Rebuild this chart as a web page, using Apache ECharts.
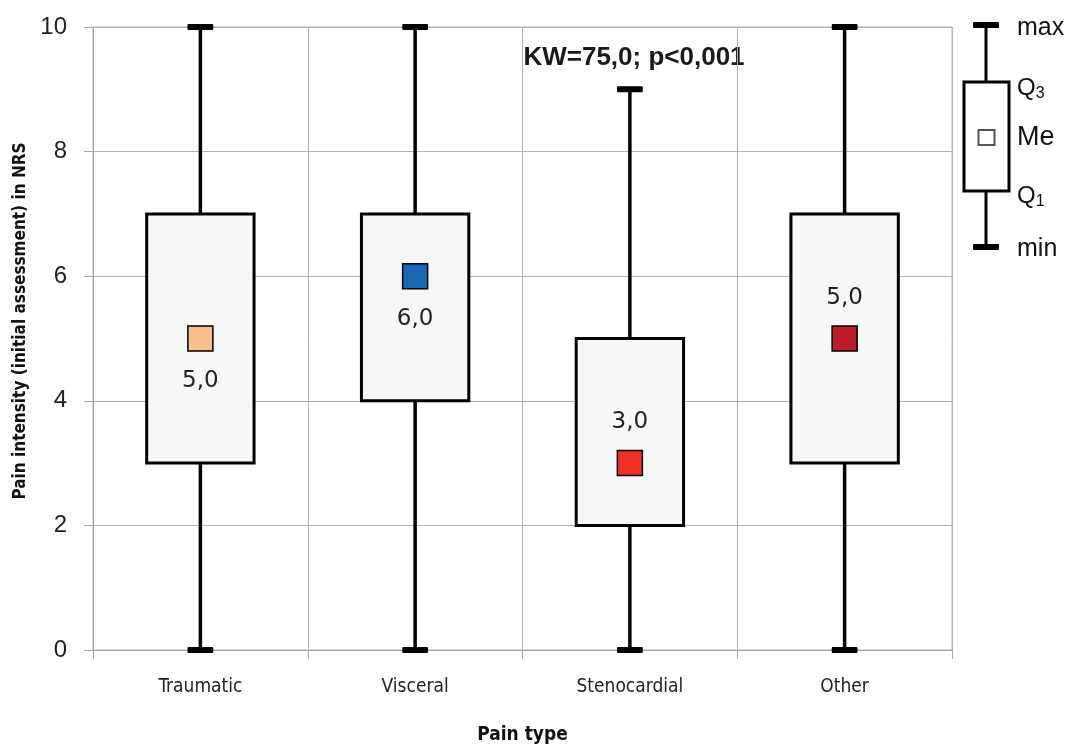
<!DOCTYPE html>
<html>
<head>
<meta charset="utf-8">
<script src="https://cdn.jsdelivr.net/npm/echarts@6/dist/echarts.min.js"></script>
<style>html,body{margin:0;padding:0;background:#fff}#c{width:1068px;height:750px}</style>
</head>
<body>
<div id="c"></div>
<script>
const categories = ['Traumatic', 'Visceral', 'Stenocardial', 'Other'];
const minValues = [0, 0, 0, 0];
const q1Values = [3, 4, 2, 3];
const medianValues = [5, 6, 3, 5];
const q3Values = [7, 7, 5, 7];
const maxValues = [10, 10, 9, 10];
const yTicks = [0, 2, 4, 6, 8, 10];
const medianColors = ['#f9bf8c', '#1769b5', '#ee3124', '#bb1e26'];
const labelPositions = ['bottom', 'bottom', 'top', 'top'];
const annotation = 'KW=75,0; p<0,001';

const narrow = "'Liberation Sans Narrow', 'DejaVu Sans Condensed', sans-serif";
const chart = echarts.init(document.getElementById('c'));

const boxData = categories.map((c, i) => [i, minValues[i], q1Values[i], medianValues[i], q3Values[i], maxValues[i]]);
const medData = categories.map((c, i) => ({
  value: [i, medianValues[i]],
  itemStyle: { color: medianColors[i] },
  label: { position: labelPositions[i], distance: labelPositions[i] === 'top' ? 16 : 18 }
}));

function renderBox(params, api) {
  const x = api.value(0);
  const pMin = api.coord([x, api.value(1)]);
  const pQ1 = api.coord([x, api.value(2)]);
  const pQ3 = api.coord([x, api.value(4)]);
  const pMax = api.coord([x, api.value(5)]);
  const band = api.size([1, 0])[0];
  const bw = band * 0.5;
  const cw = band * 0.12;
  const cx = pMin[0];
  return {
    type: 'group',
    children: [
      { type: 'line', shape: { x1: cx, y1: pMax[1], x2: cx, y2: pMin[1] }, style: { stroke: '#000', lineWidth: 3.5 } },
      { type: 'rect', shape: { x: cx - cw / 2, y: pMax[1] - 3, width: cw, height: 6, r: 1 }, style: { fill: '#000' } },
      { type: 'rect', shape: { x: cx - cw / 2, y: pMin[1] - 3, width: cw, height: 6, r: 1 }, style: { fill: '#000' } },
      { type: 'rect', shape: { x: cx - bw / 2, y: pQ3[1], width: bw, height: pQ1[1] - pQ3[1] }, style: { fill: '#f7f7f7', stroke: '#000', lineWidth: 3 } }
    ]
  };
}

const sans = '"Liberation Sans", Arial, sans-serif';
const qRich = {
  a: { fontSize: 24, fontFamily: 'Liberation Sans', fill: '#111' },
  b: { fontSize: 16, fontFamily: 'Liberation Sans', fill: '#111', verticalAlign: 'bottom', padding: [12, 0, 0, 0] }
};
// explanatory key (not data)
const lx = 986;
const graphics = [
  { type: 'line', shape: { x1: lx, y1: 25, x2: lx, y2: 247 }, style: { stroke: '#000', lineWidth: 3 } },
  { type: 'rect', shape: { x: lx - 13, y: 22, width: 26, height: 6, r: 1 }, style: { fill: '#000' } },
  { type: 'rect', shape: { x: lx - 13, y: 244, width: 26, height: 6, r: 1 }, style: { fill: '#000' } },
  { type: 'rect', shape: { x: lx - 22, y: 82, width: 45, height: 109 }, style: { fill: '#fff', stroke: '#000', lineWidth: 3 } },
  { type: 'rect', shape: { x: lx - 7.5, y: 130, width: 16, height: 15 }, style: { fill: '#fff', stroke: '#555', lineWidth: 2 } },
  { type: 'text', x: 1017, y: 28, style: { text: 'max', font: '25px ' + sans, fill: '#111', verticalAlign: 'middle' } },
  { type: 'text', x: 1017, y: 88, style: { text: '{a|Q}{b|3}', rich: qRich, verticalAlign: 'middle' } },
  { type: 'text', x: 1017, y: 138, style: { text: 'Me', font: '27px ' + sans, fill: '#111', verticalAlign: 'middle' } },
  { type: 'text', x: 1017, y: 196, style: { text: '{a|Q}{b|1}', rich: qRich, verticalAlign: 'middle' } },
  { type: 'text', x: 1017, y: 249, style: { text: 'min', font: '25px ' + sans, fill: '#111', verticalAlign: 'middle' } },
  { type: 'text', x: 634, y: 58, style: { text: annotation, font: 'bold 26px ' + sans, fill: '#1a1a1a', align: 'center', verticalAlign: 'middle' } }
];

chart.setOption({
  animation: false,
  backgroundColor: '#fff',
  grid: { left: 93, right: 116, top: 27, bottom: 100, show: true, borderColor: '#b3b3b3', borderWidth: 1 },
  xAxis: {
    type: 'category',
    data: categories,
    boundaryGap: true,
    axisLine: { show: true, lineStyle: { color: '#a6a6a6', width: 1 } },
    axisTick: { show: true, length: 9, lineStyle: { color: '#a6a6a6' } },
    splitLine: { show: true, lineStyle: { color: '#b3b3b3', width: 1 } },
    axisLabel: { fontFamily: narrow, fontSize: 19, color: '#222', margin: 28 },
    name: 'Pain type',
    nameLocation: 'middle',
    nameGap: 76,
    nameTextStyle: { fontFamily: narrow, fontWeight: 'bold', fontSize: 19, color: '#111' }
  },
  yAxis: {
    type: 'value',
    min: 0, max: 10, interval: 2,
    axisLine: { show: true, lineStyle: { color: '#a6a6a6', width: 1 } },
    axisTick: { show: true, length: 9, lineStyle: { color: '#a6a6a6' } },
    splitLine: { show: true, lineStyle: { color: '#b3b3b3', width: 1 } },
    axisLabel: { fontFamily: sans, fontSize: 24, color: '#222', margin: 26,
      formatter: v => yTicks.includes(v) ? String(v) : '' },
    name: 'Pain intensity (initial assessment) in NRS',
    nameLocation: 'middle',
    nameGap: 62,
    nameRotate: 90,
    nameTextStyle: { fontFamily: narrow, fontWeight: 'bold', fontSize: 17, color: '#111', padding: [0, 0, 0, 35] }
  },
  series: [
    {
      type: 'custom',
      renderItem: renderBox,
      data: boxData,
      encode: { x: 0, y: [1, 2, 3, 4, 5] },
      z: 2
    },
    {
      type: 'scatter',
      data: medData,
      symbol: 'rect',
      symbolSize: 25,
      itemStyle: { borderColor: '#000', borderWidth: 1.5, opacity: 1 },
      label: {
        show: true,
        fontFamily: "'DejaVu Sans', sans-serif",
        fontSize: 23,
        color: '#222',
        formatter: p => p.value[1].toFixed(1).replace('.', ',')
      },
      emphasis: { disabled: true },
      z: 5
    }
  ],
  graphic: graphics
});
</script>
</body>
</html>
